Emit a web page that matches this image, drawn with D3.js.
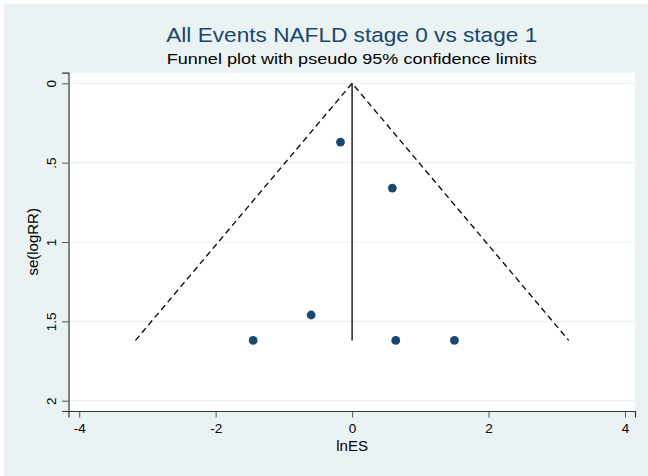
<!DOCTYPE html>
<html>
<head>
<meta charset="utf-8">
<script src="https://cdn.jsdelivr.net/npm/d3@7"></script>
<style>
  html, body { margin: 0; padding: 0; background: #ffffff; }
  svg { display: block; font-family: "Liberation Sans", Arial, Helvetica, sans-serif; }
</style>
</head>
<body>
<svg id="chart" width="648" height="476"></svg>
<script>
// Study effect sizes (log RR) and their standard errors
const lnES = [-0.17, 0.59, -0.60, -1.45, 0.64, 1.50];
const seLogRR = [0.37, 0.66, 1.46, 1.62, 1.62, 1.62];

// Pooled estimate marking the funnel centre
const pooled = [0];

// Axis ticks
const xTicks = [-4, -2, 0, 2, 4];
const yTicks = [0, 0.5, 1, 1.5, 2];
const yTickLabels = ["0", ".5", "1", "1.5", "2"];

const titleText = "All Events NAFLD stage 0 vs stage 1";
const subtitleText = "Funnel plot with pseudo 95% confidence limits";
const xLabel = "lnES";
const yLabel = "se(logRR)";

const W = 648, H = 476;
const plot = { left: 68.5, right: 635, top: 72.7, bottom: 411 };

const svg = d3.select("#chart");

// Graph background
svg.append("rect")
  .attr("x", 4).attr("y", 4)
  .attr("width", W - 4).attr("height", H - 4)
  .attr("fill", "#eaf2f3");

const x = d3.scaleLinear().domain([-4.157, 4.147]).range([plot.left, plot.right]);
const y = d3.scaleLinear().domain([-0.067, 2.065]).range([plot.top, plot.bottom]);

// Plot region
svg.append("rect")
  .attr("x", plot.left).attr("y", plot.top)
  .attr("width", plot.right - plot.left).attr("height", plot.bottom - plot.top)
  .attr("fill", "#ffffff");

// Horizontal grid lines
svg.append("g").selectAll("line").data(yTicks).join("line")
  .attr("x1", plot.left).attr("x2", plot.right)
  .attr("y1", d => y(d)).attr("y2", d => y(d))
  .attr("stroke", "#eaf2f3").attr("stroke-width", 1.2);

// Pseudo 95% confidence limits
const maxSe = d3.max(seLogRR);
const centre = pooled[0];
const funnel = [
  [centre - 1.96 * maxSe, maxSe],
  [centre, 0],
  [centre + 1.96 * maxSe, maxSe]
];
svg.append("path")
  .datum(funnel)
  .attr("d", d3.line().x(d => x(d[0])).y(d => y(d[1])))
  .attr("fill", "none")
  .attr("stroke", "#000000")
  .attr("stroke-width", 1.3)
  .attr("stroke-dasharray", "6,4");

// Pooled effect line
svg.append("line")
  .attr("x1", x(centre)).attr("x2", x(centre))
  .attr("y1", y(0)).attr("y2", y(maxSe))
  .attr("stroke", "#000000").attr("stroke-width", 1.3);

// Studies
svg.append("g").selectAll("circle").data(lnES.map((v, i) => [v, seLogRR[i]])).join("circle")
  .attr("cx", d => x(d[0])).attr("cy", d => y(d[1]))
  .attr("r", 4.4)
  .attr("fill", "#1a476f");

// X axis
const xAxis = d3.axisBottom(x).tickValues(xTicks).tickFormat(d => String(d))
  .tickSizeOuter(0).tickSize(6.5).tickPadding(6);
const gx = svg.append("g").attr("transform", `translate(0,${plot.bottom})`).call(xAxis);
gx.select(".domain").attr("stroke", "#333333").attr("stroke-width", 1.2);
gx.selectAll(".tick line").attr("stroke", "#555555");
gx.selectAll(".tick text").attr("font-size", 13.5).attr("fill", "#000000")
  .attr("font-family", "Liberation Sans, Arial, sans-serif");

// Y axis (labels rotated)
const yAxis = d3.axisLeft(y).tickValues(yTicks).tickFormat((d, i) => yTickLabels[i])
  .tickSizeOuter(0).tickSize(6.5);
const gy = svg.append("g").attr("transform", `translate(${plot.left},0)`).call(yAxis);
gy.select(".domain").attr("stroke", "#333333").attr("stroke-width", 1.2);
gy.selectAll(".tick line").attr("stroke", "#555555");
gy.selectAll(".tick text")
  .attr("font-size", 13.5).attr("fill", "#000000")
  .attr("font-family", "Liberation Sans, Arial, sans-serif")
  .attr("x", null)
  .attr("dy", "0")
  .attr("text-anchor", "middle")
  .attr("transform", "translate(-13,0) rotate(-90)");

// Axis titles
svg.append("text")
  .attr("x", x(0)).attr("y", 451)
  .attr("text-anchor", "middle").attr("font-size", 15).attr("fill", "#000000")
  .text(xLabel);

svg.append("text")
  .attr("transform", `translate(38,${(plot.top + plot.bottom) / 2}) rotate(-90)`)
  .attr("text-anchor", "middle").attr("font-size", 15).attr("fill", "#000000")
  .text(yLabel);

// Titles
const cx = (plot.left + plot.right) / 2;
svg.append("text")
  .attr("x", cx).attr("y", 42)
  .attr("text-anchor", "middle").attr("font-size", 20.5).attr("fill", "#1a476f")
  .attr("textLength", 371).attr("lengthAdjust", "spacingAndGlyphs")
  .text(titleText);

svg.append("text")
  .attr("x", cx).attr("y", 63.5)
  .attr("text-anchor", "middle").attr("font-size", 14.8).attr("fill", "#000000")
  .attr("textLength", 370).attr("lengthAdjust", "spacingAndGlyphs")
  .text(subtitleText);
</script>
</body>
</html>
